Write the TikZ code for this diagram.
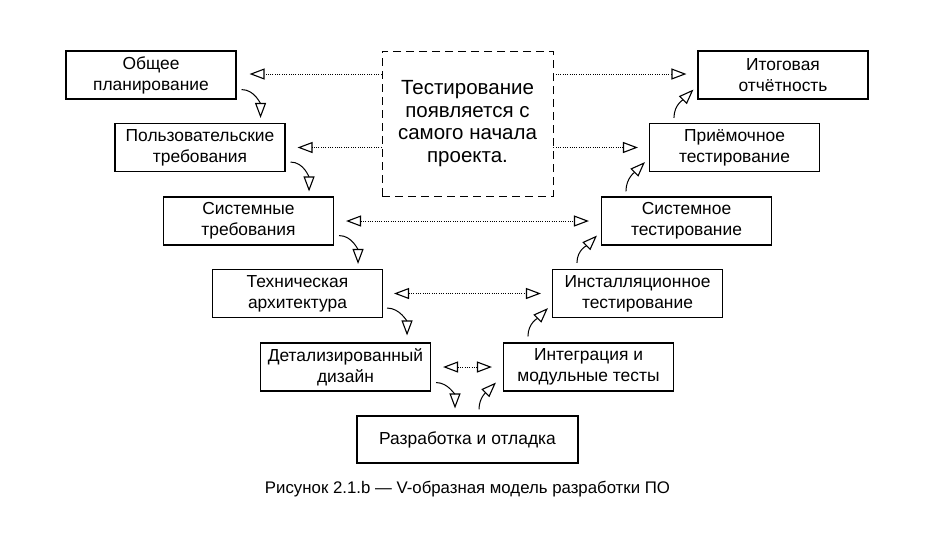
\documentclass[tikz,border=0pt]{standalone}
\usepackage{fontspec}
\setmainfont{Liberation Sans}
\usetikzlibrary{arrows.meta}

\begin{document}
\begin{tikzpicture}[x=1pt,y=-1pt,
    vtip/.tip={Triangle[open,length=15pt,width=11pt,line width=1.1pt]},
    stage/.style={draw, line width=1.1pt, minimum width=170pt, minimum height=48pt,
      inner sep=0pt, align=center, font=\fontsize{17.4}{21}\selectfont},
    flow/.style={-vtip, line width=1pt},
    link/.style={line width=0.8pt, dash pattern=on 1pt off 1.3pt},
    note/.style={draw, line width=0.9pt, dash pattern=on 8pt off 5pt, minimum width=171pt,
      minimum height=145pt, inner sep=0pt, align=center, font=\fontsize{20.5}{22.5}\selectfont}]
    \useasboundingbox (0,0) rectangle (935,539);
    % left branch (specification)
    \node[stage] (plan) at (151,75) {Общее\\планирование};
    \node[stage] (user) at (200,147.5) {Пользовательские\\требования};
    \node[stage] (sysreq) at (248.5,221) {Системные\\требования};
    \node[stage] (arch) at (297.5,293.5) {Техническая\\архитектура};
    \node[stage] (design) at (345.5,367) {Детализированный\\дизайн};
    % bottom
    \node[stage, minimum width=221pt, minimum height=47pt] (code) at (467.5,439.5) {Разработка и отладка};
    % right branch (testing)
    \node[stage] (integ) at (588.5,367) {Интеграция и\\модульные тесты};
    \node[stage] (install) at (637.5,293.5) {Инсталляционное\\тестирование};
    \node[stage] (systest) at (686.5,221) {Системное\\тестирование};
    \node[stage] (accept) at (734.5,147.5) {Приёмочное\\тестирование};
    \node[stage] (report) at (783,75) {Итоговая\\отчётность};
    % note in the middle
    \node[note] (test) at (467.5,123.5) {Тестирование\\появляется с\\самого начала\\проекта.};
    % down the V
    \draw[flow] ([xshift=5,yshift=10]plan.south east) to[out=0,in=90] ([xshift=-25,yshift=5]user.north east);
    \draw[flow] ([xshift=5,yshift=10]user.south east) to[out=0,in=90] ([xshift=-25,yshift=5]sysreq.north east);
    \draw[flow] ([xshift=5,yshift=10]sysreq.south east) to[out=0,in=90] ([xshift=-25,yshift=5]arch.north east);
    \draw[flow] ([xshift=4,yshift=10]arch.south east) to[out=0,in=90] ([xshift=-24,yshift=7]design.north east);
    \draw[flow] ([xshift=5,yshift=9]design.south east) to[out=0,in=90] ([xshift=-12.5,yshift=7]code.north);
    % up the V
    \draw[flow] ([xshift=11.5,yshift=6]code.north) to[out=90,in=225] ([xshift=-7,yshift=9]integ.south west);
    \draw[flow] ([xshift=25,yshift=6]integ.north west) to[out=90,in=225] ([xshift=-4,yshift=10]install.south west);
    \draw[flow] ([xshift=25,yshift=6]install.north west) to[out=90,in=225] ([xshift=-4,yshift=10]systest.south west);
    \draw[flow] ([xshift=25,yshift=5]systest.north west) to[out=90,in=225] ([xshift=-4,yshift=10]accept.south west);
    \draw[flow] ([xshift=25,yshift=5]accept.north west) to[out=90,in=225] ([xshift=-4,yshift=10]report.south west);
    % dotted links from the note
    \draw[link, -vtip, shorten >=13pt] (test.west |- 0,74) -- (plan.east |- 0,74);
    \draw[link, -vtip, shorten >=12pt] (test.west |- user.east) -- (user.east);
    \draw[link, -vtip, shorten >=11pt] (test.east |- 0,74) -- (report.west |- 0,74);
    \draw[link, -vtip, shorten >=11pt] (test.east |- accept.west) -- (accept.west);
    % dotted links across the V
    \draw[link, vtip-vtip, shorten <=12pt, shorten >=12pt] (sysreq.east) -- (systest.west);
    \draw[link, vtip-vtip, shorten <=11pt, shorten >=11pt] (arch.east) -- (install.west);
    \draw[link, vtip-vtip, shorten <=12pt, shorten >=11pt] (design.east) -- (integ.west);
    % caption
    \node[font=\fontsize{16.8}{20}\selectfont] (caption) at (467.5,489) {Рисунок 2.1.b — V-образная модель разработки ПО};
\end{tikzpicture}
\end{document}
